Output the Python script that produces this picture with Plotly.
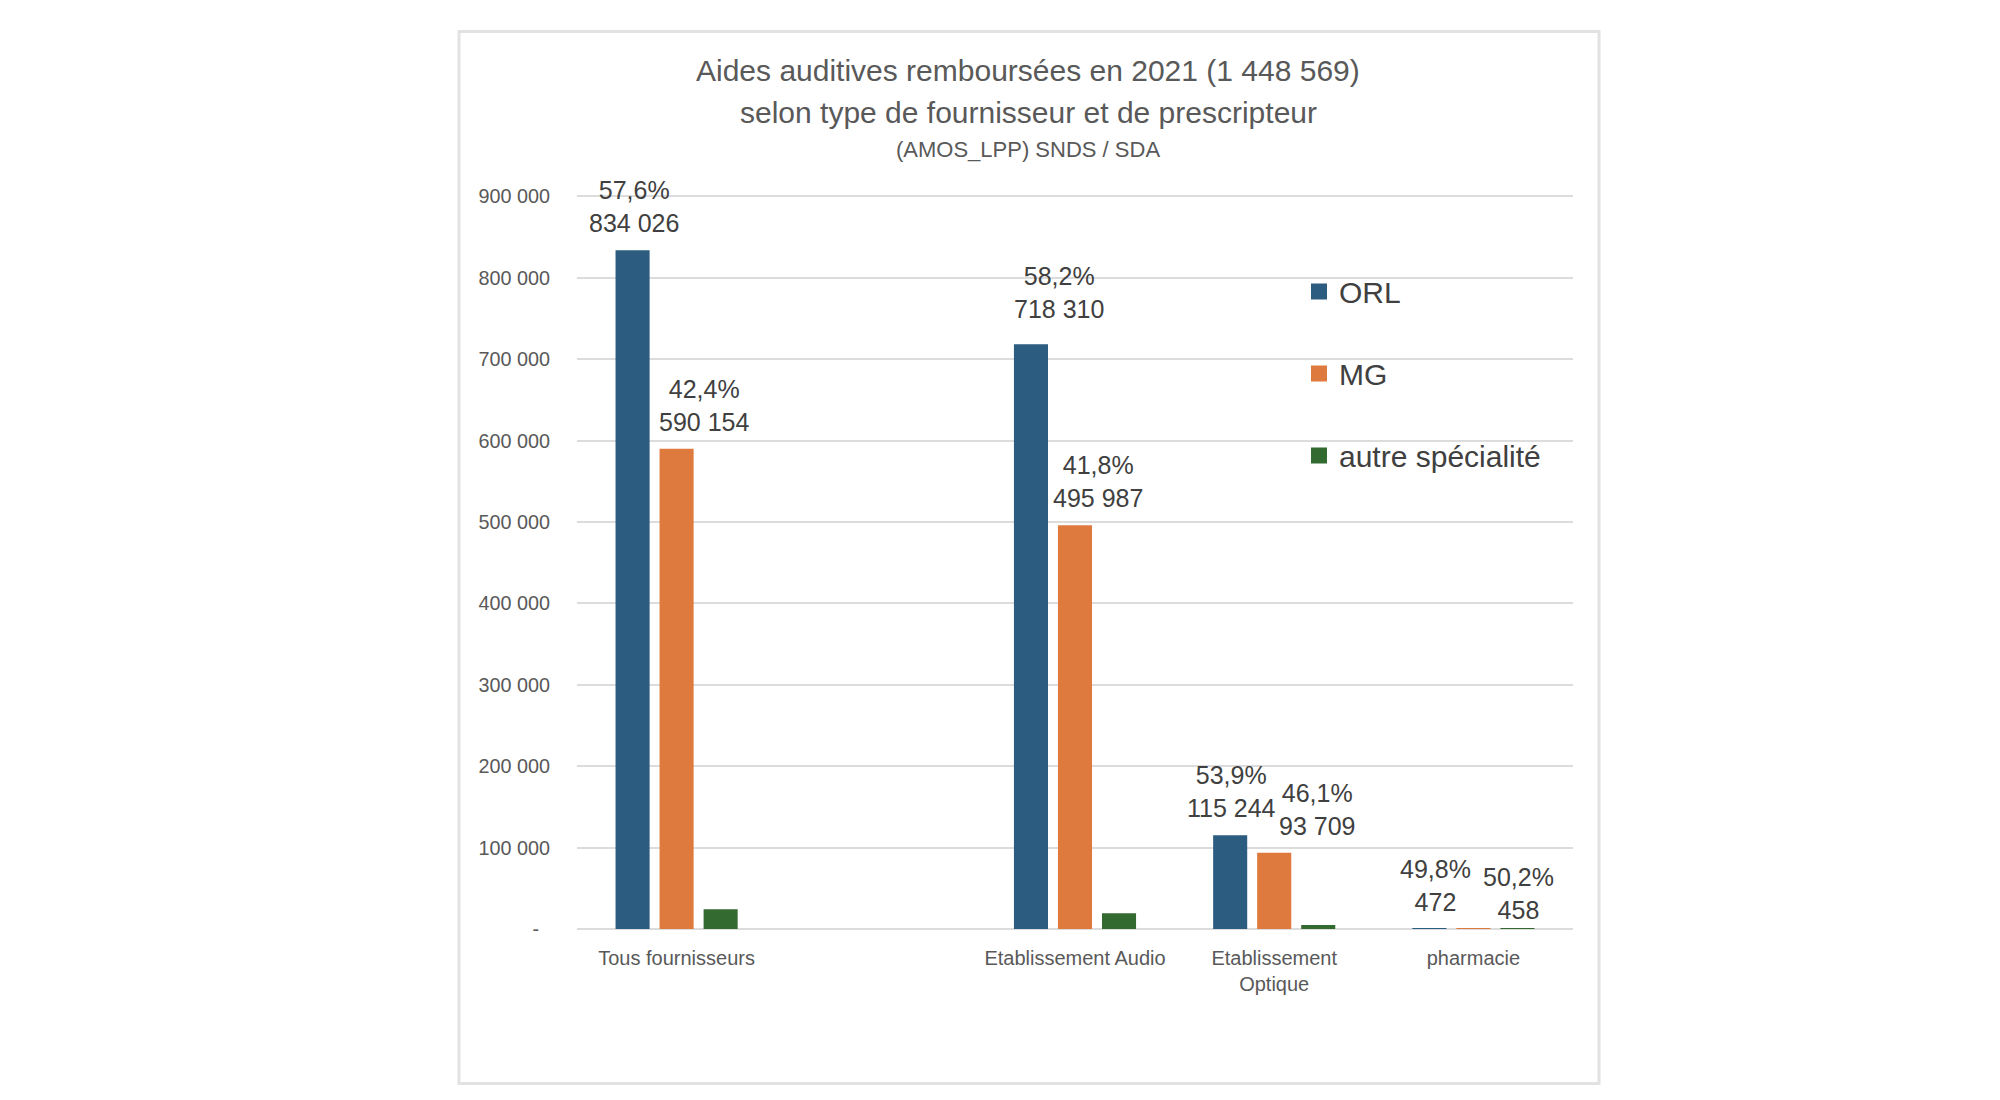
import plotly.graph_objects as go

# ---------------- data ----------------
categories = ["Tous fournisseurs", "", "Etablissement Audio", "Etablissement<br>Optique", "pharmacie"]
orl_values = [834026, None, 718310, 115244, 472]
mg_values = [590154, None, 495987, 93709, 458]
autre_values = [24389, None, 19500, 4800, 89]
orl_pct = [57.6, None, 58.2, 53.9, 49.8]
mg_pct = [42.4, None, 41.8, 46.1, 50.2]
series_names = ["ORL", "MG", "autre spécialité"]
y_tick_values = [0, 100000, 200000, 300000, 400000, 500000, 600000, 700000, 800000, 900000]
y_tick_labels = ["-", "100 000", "200 000", "300 000", "400 000", "500 000",
                 "600 000", "700 000", "800 000", "900 000"]
title_lines = ["Aides auditives remboursées en 2021 (1 448 569)",
               "selon type de fournisseur et de prescripteur",
               "(AMOS_LPP) SNDS / SDA"]

# ---------------- style ----------------
colors = ["#2C5D80", "#DF7A3F", "#336A2F"]
FONT = "Liberation Sans, Arial, sans-serif"
OFF = 8  # page body margin
W, H = 2000 - 2 * OFF, 1100 - 2 * OFF
Y_MAX = 903000
# target page pixels of the plot area
L_PG, R_PG, B_PG = 577, 1573, 929
T_PG = B_PG - (B_PG - 196) * Y_MAX / 900000
L, R, T, B = L_PG - OFF, R_PG - OFF, T_PG - OFF, B_PG - OFF


def xp(px):
    return (px - OFF - L) / (R - L)


def yp(py):
    return (B - (py - OFF)) / (B - T)


BARGAP = 0.337
SLOT = (1 - BARGAP) / 3

x_idx = list(range(len(categories)))

fig = go.Figure()
for k, (name, vals) in enumerate(zip(series_names, [orl_values, mg_values, autre_values])):
    fig.add_trace(go.Bar(
        x=x_idx, y=vals, name=name, marker=dict(color=colors[k], line=dict(width=0)),
        showlegend=False, hoverinfo="skip",
    ))
    # legend proxy with larger square symbol
    fig.add_trace(go.Scatter(
        x=[None], y=[None], mode="markers", name=name, legendgroup=name,
        marker=dict(symbol="square", size=16, color=colors[k]),
        showlegend=True,
    ))

# data labels (label offsets in pixels, as manually placed in the original)
label_xshift = {("ORL", 0): 1, ("MG", 0): 27, ("ORL", 2): 28, ("MG", 2): 23,
                ("ORL", 3): 1, ("MG", 3): 43, ("ORL", 4): 6, ("MG", 4): 45}
label_yshift = {("ORL", 2): 8, ("MG", 4): -8}


def fmt_num(v):
    return f"{v:,}".replace(",", " ")


def fmt_pct(p):
    return f"{p:.1f}".replace(".", ",") + "%"


annotations = []
for k, (name, vals, pcts) in enumerate([("ORL", orl_values, orl_pct), ("MG", mg_values, mg_pct)]):
    for i, (v, p) in enumerate(zip(vals, pcts)):
        if v is None:
            continue
        annotations.append(dict(
            x=i + (k - 1) * SLOT, y=v, xref="x", yref="y",
            text=fmt_pct(p) + "<br>" + fmt_num(v),
            showarrow=False, xanchor="center", yanchor="bottom",
            xshift=label_xshift.get((name, i), 0),
            yshift=11 + label_yshift.get((name, i), 0),
            font=dict(family=FONT, size=25, color="#404040"),
        ))

# title lines
title_sizes = [30, 30, 22]
title_ys = [70, 112, 149]
for txt, sz, py in zip(title_lines, title_sizes, title_ys):
    annotations.append(dict(
        x=xp(1028), y=yp(py), xref="paper", yref="paper", text=txt, showarrow=False,
        xanchor="center", yanchor="middle",
        font=dict(family=FONT, size=sz, color="#595959"),
    ))

# tick text with accounting-style padding on the zero label
y_tick_text = [t + ("\u00a0\u00a0" if t == "-" else "") for t in y_tick_labels]

fig.update_layout(
    width=W, height=H,
    margin=dict(l=L, r=W - R, t=T, b=H - B, pad=0),
    paper_bgcolor="white", plot_bgcolor="white",
    barmode="group", bargap=BARGAP, bargroupgap=0.226,
    annotations=annotations,
    showlegend=True,
    legend=dict(
        x=xp(1299), y=yp(265), xanchor="left", yanchor="top",
        font=dict(family=FONT, size=30, color="#404040"),
        bgcolor="rgba(0,0,0,0)", tracegroupgap=40, itemwidth=30,
    ),
    shapes=[dict(
        type="rect", xref="paper", yref="paper",
        x0=xp(459), x1=xp(1599), y0=yp(1083.5), y1=yp(31),
        line=dict(color="#E2E2E2", width=3), fillcolor="rgba(0,0,0,0)", layer="below",
    )],
)

fig.update_xaxes(
    range=[-0.5, len(categories) - 0.5],
    tickvals=x_idx, ticktext=categories,
    showgrid=False, zeroline=False, showline=False, ticks="",
    tickfont=dict(family=FONT, size=20, color="#595959"),
    ticklabelstandoff=15, fixedrange=True,
)
fig.update_yaxes(
    range=[0, Y_MAX],
    tickvals=y_tick_values, ticktext=y_tick_text,
    showgrid=True, gridcolor="#DCDCDC", gridwidth=1.5,
    zeroline=True, zerolinecolor="#DCDCDC", zerolinewidth=1.5,
    showline=False, ticks="",
    tickfont=dict(family=FONT, size=19.8, color="#595959"),
    ticklabelstandoff=26, fixedrange=True,
)

fig.write_html("out.html")
